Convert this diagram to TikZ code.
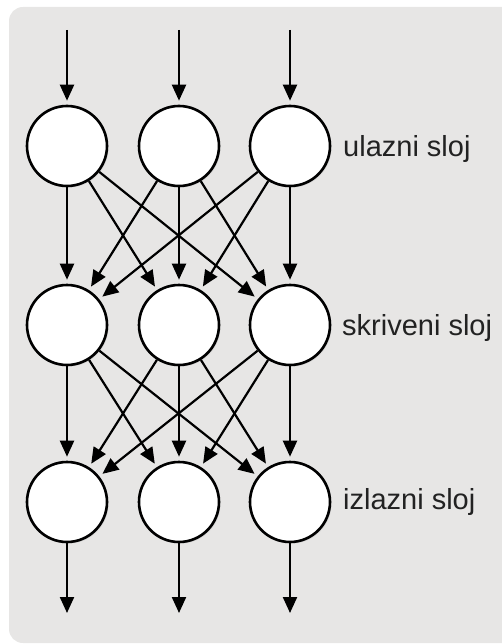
\documentclass[tikz,border=0pt]{standalone}
\usepackage{fontspec}
\setmainfont{Liberation Sans}
\usetikzlibrary{arrows.meta,shadows}
\definecolor{panelgray}{HTML}{E7E6E5}
\definecolor{labelgray}{HTML}{222222}
\tikzset{
  neuron/.style = {circle, draw, line width=2.6pt, fill=white, minimum size=80pt, inner sep=0pt,
    drop shadow={opacity=0.18, shadow xshift=1.5pt, shadow yshift=-1.5pt}},
  link/.style = {line width=2.2pt, -{Triangle[length=16pt,width=14pt]}, shorten >=4pt},
  layername/.style = {anchor=base west, inner sep=0pt, font=\fontsize{29}{35}\selectfont, text=labelgray}
}
\begin{document}
\begin{tikzpicture}[x=1pt,y=-1pt]
\clip (0,0) rectangle (502,644);
\fill [panelgray, rounded corners=14pt] (9,7) rectangle (540,643);
% three layers of three neurons
\foreach \i/\x in {1/67,2/179,3/290} {
  \node [neuron] (u\i) at (\x,146) {};
  \node [neuron] (s\i) at (\x,325) {};
  \node [neuron] (z\i) at (\x,502) {};
  \coordinate (ul\i) at (\x,30);
  \coordinate (iz\i) at (\x,613);
}
% inputs and outputs
\foreach \i in {1,2,3} {
  \draw [link] (ul\i) -- (u\i);
  \draw [link, shorten >=0pt] (z\i) -- (iz\i);
}
% full connections between layers
\foreach \a in {1,2,3} {
  \foreach \b in {1,2,3} {
    \draw [link] (u\a) -- (s\b);
    \draw [link] (s\a) -- (z\b);
  }
}
\node [layername] (ulazni) at (343,157) {ulazni sloj};
\node [layername] (skriveni) at (342,335) {skriveni sloj};
\node [layername] (izlazni) at (343,509) {izlazni sloj};
\end{tikzpicture}
\end{document}
